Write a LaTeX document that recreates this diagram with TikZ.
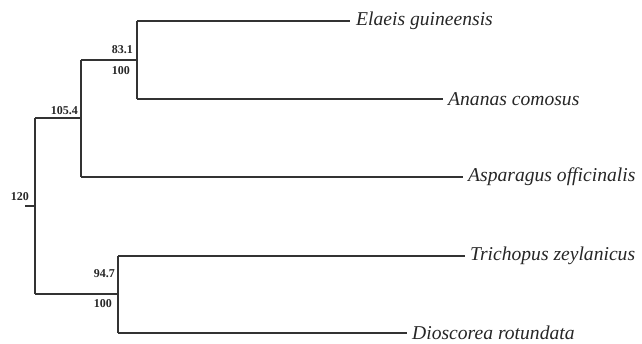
\documentclass[tikz,border=0pt]{standalone}
\usepackage{fontspec}
\setmainfont{Liberation Serif}
\begin{document}
\begin{tikzpicture}[x=1pt,y=-1pt,
  branch/.style={draw=black!80,line width=1.3pt},
  taxon/.style={anchor=west,inner sep=0pt,font=\fontsize{19.6}{19.6}\selectfont\itshape,text=black!85},
  support/.style={inner sep=0pt,font=\fontsize{12}{12}\selectfont\bfseries,text=black!85}]
\useasboundingbox (0,0) rectangle (642,344);
% junction coordinates
\coordinate (stub) at (25,206);
\coordinate (root) at (35,206);
\coordinate (rtop) at (35,118);
\coordinate (rbot) at (35,294);
\coordinate (n1) at (81,118);
\coordinate (n1t) at (81,60);
\coordinate (n1b) at (81,177);
\coordinate (n2) at (137,60);
\coordinate (n2t) at (137,21);
\coordinate (n2b) at (137,99);
\coordinate (n3) at (118,294);
\coordinate (n3t) at (118,256);
\coordinate (n3b) at (118,333);
% leaves
\coordinate (eE) at (350,21);
\coordinate (eA) at (443,99);
\coordinate (eP) at (463,177);
\coordinate (eT) at (465,256);
\coordinate (eD) at (407,333);
\node[taxon] (tE) at ([xshift=6pt]eE) {Elaeis guineensis};
\node[taxon] (tA) at ([xshift=5pt]eA) {Ananas comosus};
\node[taxon] (tP) at ([xshift=5pt]eP) {Asparagus officinalis};
\node[taxon] (tT) at ([xshift=5pt]eT) {Trichopus zeylanicus};
\node[taxon] (tD) at ([xshift=5pt]eD) {Dioscorea rotundata};
% branches
\draw[branch] (stub) -- (root);
\draw[branch] (rtop) -- (rbot);
\draw[branch] (rtop) -- (n1);
\draw[branch] (n1t) -- (n1b);
\draw[branch] (n1t) -- (n2);
\draw[branch] (n2t) -- (n2b);
\draw[branch] (n2t) -- (eE);
\draw[branch] (n2b) -- (eA);
\draw[branch] (n1b) -- (eP);
\draw[branch] (rbot) -- (n3);
\draw[branch] (n3t) -- (n3b);
\draw[branch] (n3t) -- (eT);
\draw[branch] (n3b) -- (eD);
% support labels
\node[support,anchor=east] (l831) at (133,50) {83.1};
\node[support,anchor=east] (l100a) at (130,71) {100};
\node[support,anchor=east] (l1054) at (78,111) {105.4};
\node[support,anchor=east] (l120) at (29,197) {120};
\node[support,anchor=east] (l947) at (115,274) {94.7};
\node[support,anchor=east] (l100b) at (112,304) {100};
\end{tikzpicture}
\end{document}
